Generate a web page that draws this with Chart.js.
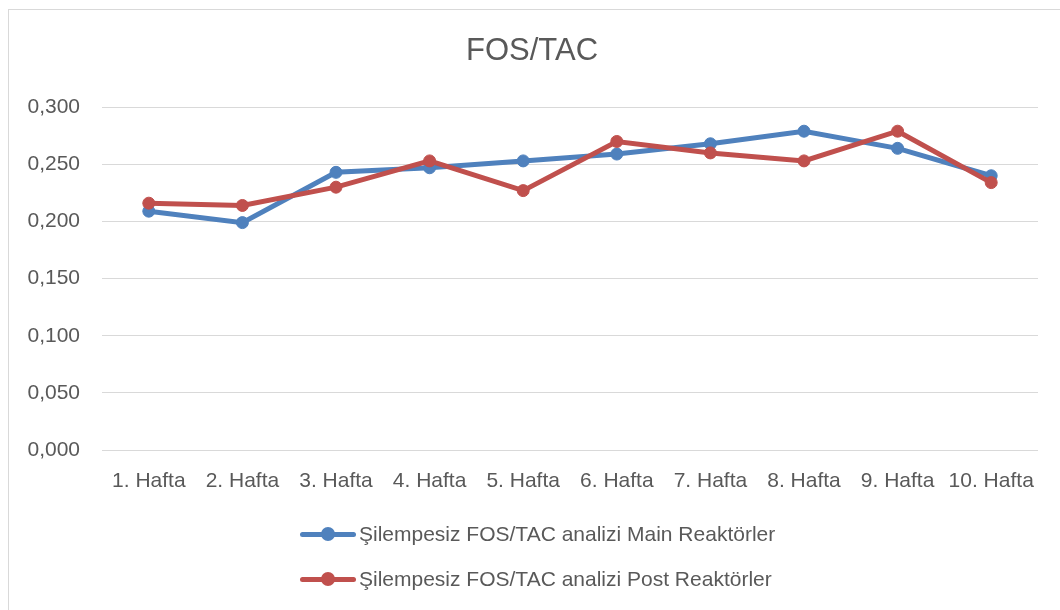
<!DOCTYPE html>
<html>
<head>
<meta charset="utf-8">
<script src="https://cdn.jsdelivr.net/npm/chart.js@4"></script>
<style>
    body { margin: 0; overflow: hidden; background: #fff; }
    #wrap { position: relative; width: 1060px; height: 610px; }
    #frame { position: absolute; left: 8px; top: 9px; width: 1100px; height: 700px; border: 1px solid #d9d9d9; }
    #legend { position: absolute; left: 300px; top: 511px; font-family: "Liberation Sans", Arial, sans-serif; font-size: 21px; color: #595959; }
    .row { display: flex; align-items: center; height: 45px; }
    .mark { position: relative; width: 56px; height: 14px; margin-right: 3px; }
    .mark .ln { position: absolute; left: 0; right: 0; top: 5px; height: 5px; border-radius: 3px; }
    .mark .dot { position: absolute; left: 21px; top: 0; width: 14px; height: 14px; border-radius: 50%; }
</style>
</head>
<body>
<div id="wrap">
    <div id="frame"></div>
    <canvas id="fosChart"></canvas>
    <div id="legend"></div>
</div>
<script>
// Weeks on the x axis
const weeks = ['1. Hafta', '2. Hafta', '3. Hafta', '4. Hafta', '5. Hafta',
    '6. Hafta', '7. Hafta', '8. Hafta', '9. Hafta', '10. Hafta'];

// FOS/TAC values
const mainReactors = [0.209, 0.199, 0.243, 0.247, 0.253, 0.259, 0.268, 0.279, 0.264, 0.240];
const postReactors = [0.216, 0.214, 0.230, 0.253, 0.227, 0.270, 0.260, 0.253, 0.279, 0.234];

const mainLabel = 'Şilempesiz FOS/TAC analizi Main Reaktörler';
const postLabel = 'Şilempesiz FOS/TAC analizi Post Reaktörler';

const textColor = '#595959';
const fontFamily = '"Liberation Sans", Arial, sans-serif';

function makeDataset(label, data, color, order) {
    return {
        label: label,
        data: data,
        borderColor: color,
        backgroundColor: color,
        borderWidth: 5,
        pointRadius: 6,
        pointBorderWidth: 1,
        pointBackgroundColor: color,
        pointBorderColor: color,
        tension: 0,
        order: order
    };
}

const ctx = document.getElementById('fosChart').getContext('2d');
const fosChart = new Chart(ctx, {
    type: 'line',
    data: {
        labels: weeks,
        datasets: [
            makeDataset(mainLabel, mainReactors, '#4f81bd', 1),
            makeDataset(postLabel, postReactors, '#c0504d', 0)
        ]
    },
    options: {
        responsive: true,
        maintainAspectRatio: false,
        animation: false,
        layout: {
            padding: { left: 26, right: 22, top: 10, bottom: 100 }
        },
        plugins: {
            legend: { display: false },
            tooltip: { enabled: false },
            title: {
                display: true,
                text: 'FOS/TAC',
                color: textColor,
                font: { family: fontFamily, size: 31, weight: 'normal', lineHeight: 1.2 },
                padding: { top: 23, bottom: 37 }
            }
        },
        scales: {
            x: {
                offset: true,
                grid: { display: false, drawTicks: false },
                border: { display: false },
                ticks: {
                    color: textColor,
                    font: { family: fontFamily, size: 21 },
                    padding: 19,
                    maxRotation: 0,
                    autoSkip: false
                },
                afterFit: function (scale) { scale.height = 60; }
            },
            y: {
                min: 0,
                max: 0.3,
                grid: { color: '#d9d9d9', lineWidth: 1, drawTicks: false },
                border: { display: false },
                ticks: {
                    stepSize: 0.05,
                    color: textColor,
                    font: { family: fontFamily, size: 21 },
                    padding: 22,
                    callback: function (value) {
                        return value.toFixed(3).replace('.', ',');
                    }
                },
                afterFit: function (scale) { scale.width = 76; }
            }
        }
    }
});

// Legend rows built from the chart's datasets, stacked like the original
const legendBox = document.getElementById('legend');
fosChart.data.datasets.forEach(ds => {
    const row = document.createElement('div');
    row.className = 'row';
    row.innerHTML = '<span class="mark"><span class="ln" style="background:' + ds.borderColor +
        '"></span><span class="dot" style="background:' + ds.borderColor + '"></span></span>' +
        '<span>' + ds.label + '</span>';
    legendBox.appendChild(row);
});
</script>
</body>
</html>
